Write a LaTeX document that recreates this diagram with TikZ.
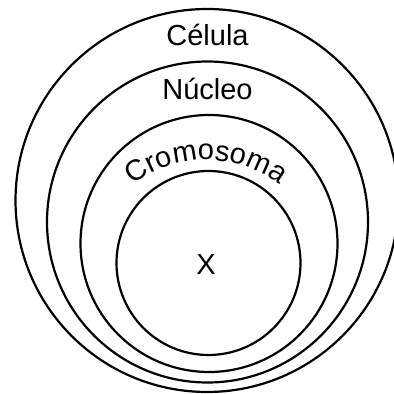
\documentclass[tikz,border=0pt]{standalone}
\usepackage{fontspec}
\setmainfont{Liberation Sans}
\usepackage{tikz}
\usetikzlibrary{decorations.text}

\newcommand{\labelfont}{\fontsize{29}{32}\selectfont}

\begin{document}
\begin{tikzpicture}[x=1pt, y=1pt,
    ring/.style={circle, draw, line width=2.2pt, inner sep=0pt},
    lbl/.style={font=\labelfont, anchor=base}]
    \useasboundingbox (0,0) rectangle (394,394);

    % Circles
    \node[ring, minimum size=383pt] (celula) at (207,193.5) {};
    \node[ring, minimum size=321pt] (nucleo) at (207.5,172) {};
    \node[ring, minimum size=257pt] (cromo) at (209,150.5) {};
    \node[ring, minimum size=184pt] (x) at (208.5,131) {};

    % Labels
    \node[lbl] (celulaLabel) at (207.5,348) {Célula};
    \node[lbl] (nucleoLabel) at (207.5,294) {Núcleo};
    \node[lbl] (xLabel) at (206,119) {X};
    \coordinate (arcCenter) at (206,114);
    \path[decorate, decoration={text along path, text align=center,
        text={|\labelfont|Cromosoma}}]
        (arcCenter) ++(145:120) arc[start angle=145, end angle=35, radius=120];
\end{tikzpicture}
\end{document}
